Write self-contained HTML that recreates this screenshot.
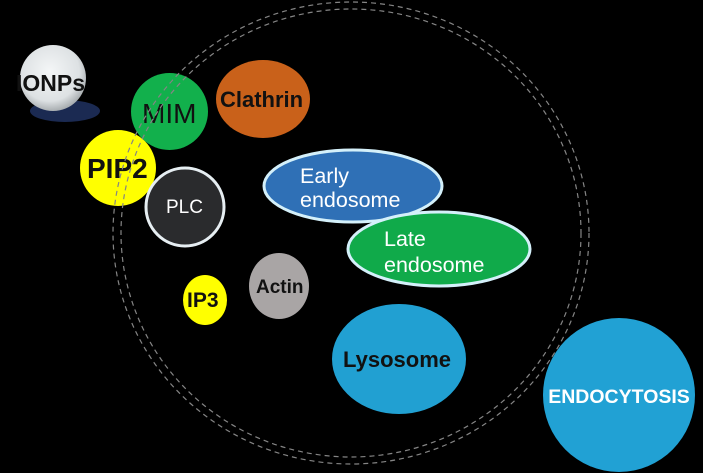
<!DOCTYPE html>
<html><head><meta charset="utf-8"><style>
html,body{margin:0;padding:0;background:#000;}
svg{display:block;}
text{font-family:"Liberation Sans",Arial,sans-serif;}
</style></head><body>
<svg width="703" height="473" viewBox="0 0 703 473" xmlns="http://www.w3.org/2000/svg">
<defs>
<radialGradient id="sph" cx="0.45" cy="0.4" r="0.6">
<stop offset="0" stop-color="#f4f6f7"/>
<stop offset="0.75" stop-color="#dde1e3"/>
<stop offset="1" stop-color="#a9aeb1"/>
</radialGradient>
</defs>
<rect width="703" height="473" fill="#000"/>
<!-- IONPs -->
<ellipse cx="65" cy="111" rx="35" ry="11" fill="#1b2a52"/>
<circle cx="53" cy="78" r="33" fill="url(#sph)"/>
<text x="16" y="91" font-size="23" font-weight="bold" fill="#111">IONPs</text>
<!-- MIM -->
<circle cx="169.5" cy="111.5" r="38.5" fill="#12b04c"/>
<text x="142" y="123" font-size="28" fill="#111">MIM</text>
<!-- PIP2 -->
<circle cx="118" cy="168" r="38" fill="#ffff00"/>
<text x="87" y="178" font-size="28" font-weight="bold" fill="#111">PIP2</text>
<!-- dashed circles -->
<ellipse cx="351" cy="233" rx="238" ry="231" fill="none" stroke="#858585" stroke-width="1.2" stroke-dasharray="5 4"/>
<ellipse cx="351" cy="233" rx="230" ry="224" fill="none" stroke="#858585" stroke-width="1.2" stroke-dasharray="5 4"/>
<!-- PLC -->
<circle cx="185" cy="207" r="39" fill="#2a2b2d" stroke="#e6eef2" stroke-width="3"/>
<text x="166" y="213" font-size="19" fill="#fff">PLC</text>
<!-- Clathrin -->
<ellipse cx="263" cy="99" rx="47" ry="39" fill="#c9611a"/>
<text x="220" y="107" font-size="22" font-weight="bold" fill="#111">Clathrin</text>
<!-- Early endosome -->
<ellipse cx="353" cy="186" rx="89" ry="36" fill="#2f70b6" stroke="#d4f0fa" stroke-width="3"/>
<text x="300" y="183" font-size="21.5" fill="#fff">Early</text>
<text x="300" y="207" font-size="21.5" fill="#fff">endosome</text>
<!-- Late endosome -->
<ellipse cx="439" cy="249" rx="91" ry="37" fill="#10aa4a" stroke="#d4f0fa" stroke-width="3"/>
<text x="384" y="246" font-size="21.5" fill="#fff">Late</text>
<text x="384" y="272" font-size="21.5" fill="#fff">endosome</text>
<!-- IP3 -->
<ellipse cx="205" cy="300" rx="22" ry="25" fill="#ffff00"/>
<text x="187" y="307" font-size="21" font-weight="bold" fill="#111">IP3</text>
<!-- Actin -->
<ellipse cx="279" cy="286" rx="30" ry="33" fill="#a9a5a5"/>
<text x="256" y="293" font-size="19" font-weight="bold" fill="#111">Actin</text>
<!-- Lysosome -->
<ellipse cx="399" cy="359" rx="67" ry="55" fill="#21a0d2"/>
<text x="343" y="367" font-size="22" font-weight="bold" fill="#111">Lysosome</text>
<!-- ENDOCYTOSIS -->
<ellipse cx="619" cy="395" rx="76" ry="77" fill="#21a1d4"/>
<text x="619" y="403" font-size="19.5" font-weight="bold" fill="#fff" text-anchor="middle">ENDOCYTOSIS</text>
</svg>
</body></html>
